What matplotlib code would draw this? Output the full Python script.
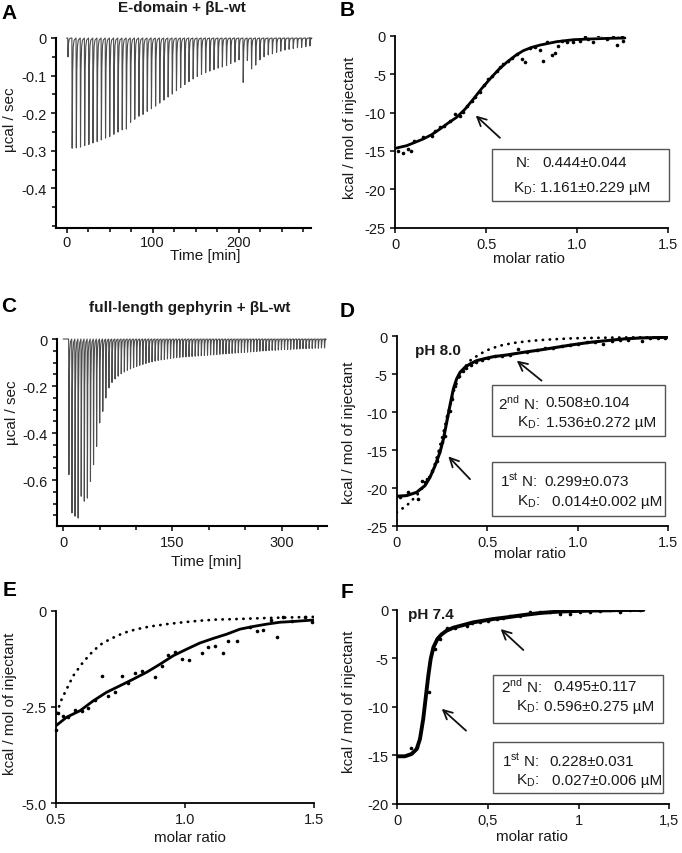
import numpy as np
import matplotlib
matplotlib.use('Agg')
import matplotlib.pyplot as plt
from matplotlib.patches import Rectangle

plt.rcParams['font.family'] = ['Liberation Sans', 'DejaVu Sans']
plt.rcParams['mathtext.fontset'] = 'custom'
plt.rcParams['mathtext.rm'] = 'Liberation Sans'
plt.rcParams['axes.unicode_minus'] = False

# ---------------- data ----------------
# Panel A thermogram: injection peak depths (µcal/sec), equally spaced injections
A_t0, A_dt = 1.2, 4.85
A_depth = [0.050, 0.293, 0.292, 0.290, 0.286, 0.283, 0.279, 0.275, 0.271, 0.266,
           0.262, 0.256, 0.250, 0.244, 0.242, 0.224, 0.216, 0.208, 0.203, 0.195,
           0.188, 0.181, 0.173, 0.165, 0.157, 0.149, 0.140, 0.132, 0.124, 0.116,
           0.109, 0.102, 0.097, 0.092, 0.088, 0.084, 0.080, 0.077, 0.073, 0.068,
           0.064, 0.058, 0.118, 0.060, 0.082, 0.072, 0.058, 0.050, 0.045, 0.042,
           0.038, 0.035, 0.032, 0.030, 0.028, 0.026, 0.025, 0.023, 0.021]

# Panel C thermogram
C_t0, C_dt = 7.4, 4.23
C_depth = [0.577, 0.740, 0.754, 0.762, 0.669, 0.690, 0.677, 0.606, 0.535, 0.457,
           0.357, 0.308, 0.251, 0.208, 0.185, 0.170, 0.158, 0.148, 0.140, 0.133,
           0.127, 0.122, 0.117, 0.112, 0.108, 0.104, 0.100, 0.097, 0.094, 0.091,
           0.089, 0.087, 0.085, 0.083, 0.081, 0.079, 0.078, 0.077, 0.076, 0.075,
           0.074, 0.073, 0.072, 0.071, 0.070, 0.069, 0.068, 0.067, 0.066, 0.065,
           0.064, 0.063, 0.062, 0.061, 0.060, 0.059, 0.058, 0.057, 0.056, 0.055,
           0.054, 0.053, 0.052, 0.051, 0.050, 0.049, 0.048, 0.048, 0.047, 0.046,
           0.045, 0.045, 0.044, 0.043, 0.043, 0.042, 0.041, 0.041, 0.040, 0.040,
           0.039, 0.039, 0.038, 0.038]

# Panel B
B_pts_x = [0.018, 0.046, 0.073, 0.088, 0.104, 0.155, 0.201, 0.22, 0.247, 0.269, 0.302,
           0.329, 0.357, 0.375, 0.393, 0.421, 0.439, 0.466, 0.49, 0.512, 0.53, 0.558,
           0.576, 0.594, 0.622, 0.64, 0.668, 0.695, 0.713, 0.741, 0.768, 0.796, 0.814,
           0.832, 0.86, 0.878, 0.896, 0.915, 0.942, 0.979, 1.015, 1.043, 1.061, 1.088,
           1.116, 1.129, 1.162, 1.198, 1.216, 1.225, 1.244, 1.253]
B_pts_y = [-14.97, -15.28, -14.76, -15.06, -13.67, -13.24, -13.0, -12.37, -11.94, -11.72,
           -11.07, -10.2, -10.42, -9.98, -9.11, -8.46, -8.03, -7.38, -6.42, -5.64, -5.3,
           -4.56, -4.12, -3.69, -3.26, -2.95, -2.39, -3.04, -3.39, -1.65, -1.52, -1.82,
           -3.26, -0.87, -2.52, -2.26, -1.3, -0.65, -0.87, -0.78, -0.65, -0.22, -0.43,
           -0.78, 0.09, 0.22, -0.43, 0.13, -1.17, 0.22, -0.22, -0.65]
B_fit_x = [0, 0.064, 0.155, 0.2, 0.247, 0.29, 0.338, 0.385, 0.43, 0.475, 0.521, 0.567,
           0.613, 0.66, 0.704, 0.75, 0.796, 0.887, 0.979, 1.07, 1.162, 1.262]
B_fit_y = [-14.67, -14.32, -13.45, -12.9, -12.15, -11.4, -10.63, -9.55, -8.25, -6.9,
           -5.64, -4.45, -3.47, -2.6, -1.95, -1.52, -1.22, -0.78, -0.52, -0.43, -0.35, -0.3]

# Panel D (pH 8.0)
D_pts_x = [0.018, 0.064, 0.12, 0.138, 0.156, 0.169, 0.193, 0.221, 0.234, 0.248, 0.267,
           0.28, 0.294, 0.307, 0.322, 0.344, 0.364, 0.383, 0.409, 0.438, 0.469, 0.506,
           0.543, 0.58, 0.626, 0.672, 0.718, 0.773, 0.819, 0.865, 0.911, 0.957, 1.003,
           1.049, 1.095, 1.141, 1.187, 1.233, 1.279, 1.353, 1.399, 1.445, 1.482]
D_pts_y = [-21.18, -20.53, -21.4, -18.99, -19.21, -18.77, -17.68, -16.36, -15.26, -13.95,
           -13.07, -10.44, -9.78, -8.25, -6.49, -5.18, -4.52, -4.21, -3.77, -3.33, -3.11,
           -2.89, -2.63, -2.54, -2.46, -1.67, -2.02, -1.75, -1.58, -1.49, -1.23, -1.14,
           -0.96, -0.79, -0.7, -1.01, -0.57, -0.48, -0.44, -0.57, -0.26, -0.18, -0.18]
D_fit_x = [0, 0.055, 0.11, 0.156, 0.184, 0.212, 0.239, 0.258, 0.276, 0.294, 0.313, 0.331,
           0.35, 0.377, 0.405, 0.442, 0.479, 0.534, 0.607, 0.699, 0.791, 0.883, 0.975,
           1.068, 1.16, 1.252, 1.344, 1.5]
D_fit_y = [-21.05, -20.96, -20.53, -19.65, -18.55, -17.02, -15.26, -13.51, -11.32, -9.12,
           -6.93, -5.61, -4.74, -4.08, -3.64, -3.2, -2.98, -2.68, -2.46, -2.11, -1.8,
           -1.45, -1.1, -0.79, -0.57, -0.35, -0.22, -0.13]
D_one_x = [0, 0.055, 0.11, 0.166, 0.202, 0.23, 0.258, 0.285, 0.313, 0.34, 0.368, 0.405,
           0.46, 0.515, 0.571, 0.644, 0.736, 0.828, 0.975, 1.16, 1.5]
D_one_y = [-23.16, -22.28, -20.96, -19.21, -17.46, -15.26, -12.63, -10.0, -7.37, -5.61,
           -4.3, -3.2, -2.32, -1.67, -1.23, -0.88, -0.61, -0.44, -0.26, -0.18, -0.09]

# Panel E (zoom of D)
E_pts_x = [0.5, 0.509, 0.526, 0.548, 0.574, 0.599, 0.625, 0.651, 0.677, 0.703, 0.728,
           0.754, 0.78, 0.806, 0.832, 0.883, 0.909, 0.935, 0.961, 0.986, 1.016, 1.064,
           1.09, 1.115, 1.145, 1.167, 1.199, 1.251, 1.277, 1.303, 1.331, 1.357, 1.38,
           1.412, 1.464, 1.49]
E_pts_y = [-3.1, -2.66, -2.73, -2.77, -2.57, -2.6, -2.54, -2.32, -1.71, -2.21, -2.11,
           -1.69, -1.89, -1.62, -1.56, -1.73, -1.43, -1.15, -1.07, -1.26, -1.28, -1.1,
           -0.95, -0.91, -1.1, -0.78, -0.78, -0.43, -0.54, -0.5, -0.24, -0.69, -0.17,
           -0.26, -0.17, -0.3]
E_fit_x = [0.5, 0.541, 0.593, 0.645, 0.696, 0.748, 0.799, 0.851, 0.903, 0.954, 1.006,
           1.057, 1.109, 1.161, 1.212, 1.264, 1.315, 1.367, 1.419, 1.5]
E_fit_y = [-2.99, -2.77, -2.6, -2.34, -2.12, -1.95, -1.78, -1.6, -1.39, -1.17, -1.0,
           -0.84, -0.72, -0.61, -0.48, -0.41, -0.35, -0.3, -0.28, -0.24]
E_one_x = [0.503, 0.522, 0.541, 0.567, 0.599, 0.632, 0.67, 0.709, 0.761, 0.812, 0.864,
           0.928, 0.993, 1.057, 1.122, 1.186, 1.315, 1.5]
E_one_y = [-2.66, -2.3, -2.04, -1.69, -1.39, -1.13, -0.89, -0.74, -0.58, -0.48, -0.41,
           -0.35, -0.3, -0.26, -0.23, -0.22, -0.19, -0.16]

# Panel F (pH 7.4)
F_pts_x = [0.074, 0.11, 0.176, 0.208, 0.235, 0.272, 0.318, 0.382, 0.41, 0.456, 0.502,
           0.548, 0.585, 0.621, 0.676, 0.732, 0.787, 0.842, 0.897, 0.952, 1.007, 1.063,
           1.118, 1.173, 1.228, 1.283, 1.338]
F_pts_y = [-14.24, -14.17, -8.51, -4.05, -3.02, -1.92, -1.92, -1.65, -1.41, -1.3, -1.13,
           -0.96, -0.89, -0.62, -0.62, -0.27, -0.27, -0.27, -0.45, -0.45, -0.21, -0.21,
           -0.1, -0.07, -0.21, -0.07, 0.0]
F_fit_x = [0, 0.042, 0.079, 0.107, 0.125, 0.143, 0.158, 0.171, 0.184, 0.199, 0.221, 0.244,
           0.272, 0.309, 0.364, 0.419, 0.474, 0.529, 0.603, 0.695, 0.787, 0.879, 0.971,
           1.063, 1.154, 1.246, 1.357]
F_fit_y = [-15.09, -15.09, -14.85, -14.34, -13.31, -11.25, -8.85, -6.79, -5.08, -3.88,
           -3.02, -2.54, -2.16, -1.85, -1.58, -1.3, -1.13, -0.96, -0.79, -0.55, -0.34,
           -0.21, -0.14, -0.1, -0.07, -0.03, -0.03]

# ---------------- figure ----------------
W, H = 682, 854
fig = plt.figure(figsize=(W / 100, H / 100), dpi=100)
TXT = '#1a1a1a'
FS_TICK = 10.5
FS_LAB = 11


def fx(x):
    return x / W


def fy(y):
    return 1 - y / H


def axes_px(l, t, r, b):
    return fig.add_axes([l / W, 1 - b / H, (r - l) / W, (b - t) / H])


def style(ax, lw=1.3):
    for s in ('top', 'right'):
        ax.spines[s].set_visible(False)
    for s in ('left', 'bottom'):
        ax.spines[s].set_linewidth(lw)
        ax.spines[s].set_color('black')
    ax.tick_params(which='both', direction='out', colors='black', labelcolor=TXT,
                   labelsize=FS_TICK, width=1.1, pad=3)
    ax.tick_params(which='major', length=3.5)
    ax.tick_params(which='minor', length=3.0)
    ax.set_facecolor('none')


def thermogram(t0, dt, depths, t_end):
    xs, ys = [0.0], [0.0]
    for i, d in enumerate(depths):
        t = t0 + dt * i
        xs += [t, t + 0.35, t + 0.9, t + 1.6, t + 2.6]
        ys += [0.0, -d, -0.3 * d, -0.08 * d, -0.02 * d]
    xs.append(t_end)
    ys.append(0.0)
    return xs, ys


def ylab(text, x, y):
    fig.text(fx(x), fy(y), text, rotation=90, ha='center', va='center',
             fontsize=FS_LAB, color=TXT)


def xlab(text, x, y):
    fig.text(fx(x), fy(y), text, ha='center', va='center', fontsize=FS_LAB, color=TXT)


def letter(text, x, y):
    fig.text(fx(x), fy(y), text, ha='center', va='center', fontsize=15,
             fontweight='bold', color='black')


def box(l, t, r, b):
    fig.add_artist(Rectangle((fx(l), fy(b)), (r - l) / W, (b - t) / H,
                             transform=fig.transFigure, facecolor='white',
                             edgecolor='#555555', lw=1.0, zorder=5))


def btxt(text, x, y, ha='left'):
    fig.text(fx(x), fy(y), text, ha=ha, va='center', fontsize=FS_LAB,
             color=TXT, zorder=6)


def arrow(ax, tip, tail):
    ax.annotate('', xy=tip, xytext=tail, xycoords='data',
                arrowprops=dict(arrowstyle='->', lw=1.3, color='#111111',
                                mutation_scale=16, shrinkA=0, shrinkB=0),
                annotation_clip=False)


KD = r'K$_\mathregular{D}$:'

# ---------- A ----------
axA = axes_px(56, 39, 310.7, 229)
style(axA, 1.5)
xs, ys = thermogram(A_t0, A_dt, A_depth, 283)
axA.plot(xs, ys, color='#4d4d4d', lw=0.8, clip_on=False)
axA.set_xlim(-12.4, 283.7)
axA.set_ylim(-0.505, 0)
axA.set_xticks([0, 100, 200])
axA.set_xticklabels(['0', '100', '200'])
axA.set_xticks([25, 50, 75, 125, 150, 175, 225, 250, 275], minor=True)
axA.tick_params(axis='x', pad=1.2)
axA.set_yticks([0, -0.1, -0.2, -0.3, -0.4])
axA.set_yticklabels(['0', '-0.1', '-0.2', '-0.3', '-0.4'])
axA.set_yticks([-0.05, -0.15, -0.25, -0.35, -0.45, -0.5], minor=True)
ylab('µcal / sec', 10, 120)
xlab('Time [min]', 205, 256.5)
fig.text(fx(182), fy(8), 'E-domain + βL-wt', ha='center', va='center',
         fontsize=11, fontweight='bold', color=TXT)
letter('A', 9.5, 13.5)

# ---------- B ----------
axB = axes_px(395, 36.7, 668.3, 228.7)
style(axB)
axB.plot(B_fit_x, B_fit_y, color='black', lw=2.0, solid_capstyle='round',
         solid_joinstyle='round')
axB.plot(B_pts_x, B_pts_y, 'o', color='black', ms=2.6, mew=0)
axB.set_xlim(0, 1.5)
axB.set_ylim(-25, 0)
axB.set_xticks([0, 0.5, 1.0, 1.5])
axB.set_xticklabels(['0', '0.5', '1.0', '1.5'])
axB.set_yticks([0, -5, -10, -15, -20, -25])
axB.set_yticklabels(['0', '-5', '-10', '-15', '-20', '-25'])
arrow(axB, (0.443, -10.4), (0.576, -13.3))
ylab('kcal / mol of injectant', 350, 128)
xlab('molar ratio', 529, 259)
box(491.7, 150, 669, 201.7)
btxt('N:', 531, 163.3, 'right')
btxt('0.444±0.044', 542.7, 163.3)
btxt(KD, 536, 188.3, 'right')
btxt('1.161±0.229 µM', 540, 188.3)
letter('B', 347.5, 10)

# ---------- C ----------
axC = axes_px(56.7, 340, 326.7, 527.3)
style(axC, 1.5)
xs, ys = thermogram(C_t0, C_dt, C_depth, 360)
axC.plot(xs, ys, color='#4d4d4d', lw=0.8, clip_on=False)
axC.set_xlim(-9, 361.8)
axC.set_ylim(-0.797, 0)
axC.set_xticks([0, 150, 300])
axC.set_xticklabels(['0', '150', '300'])
axC.set_xticks([50, 100, 200, 250, 350], minor=True)
axC.set_yticks([0, -0.2, -0.4, -0.6])
axC.set_yticklabels(['0', '-0.2', '-0.4', '-0.6'])
axC.set_yticks([-0.05, -0.1, -0.15, -0.25, -0.3, -0.35, -0.45, -0.5, -0.55,
                -0.65, -0.7, -0.75], minor=True)
ylab('µcal / sec', 12, 413)
xlab('Time [min]', 206.7, 561.7)
fig.text(fx(190), fy(307.7), 'full-length gephyrin + βL-wt', ha='center',
         va='center', fontsize=11, fontweight='bold', color=TXT)
letter('C', 9, 306.7)

# ---------- D ----------
axD = axes_px(396.7, 337.3, 668.3, 527.3)
style(axD)
axD.plot(D_one_x, D_one_y, color='black', lw=2.0, linestyle=(0, (0.1, 2.4)),
         dash_capstyle='round')
axD.plot(D_fit_x, D_fit_y, color='black', lw=2.2, solid_capstyle='round',
         solid_joinstyle='round')
axD.plot(D_pts_x, D_pts_y, 'o', color='black', ms=2.6, mew=0)
axD.set_xlim(0, 1.5)
axD.set_ylim(-25, 0)
axD.set_xticks([0, 0.5, 1.0, 1.5])
axD.set_xticklabels(['0', '0.5', '1.0', '1.5'])
axD.set_yticks([0, -5, -10, -15, -20, -25])
axD.set_yticklabels(['0', '-5', '-10', '-15', '-20', '-25'])
arrow(axD, (0.663, -3.2), (0.8, -5.84))
arrow(axD, (0.285, -15.8), (0.405, -18.8))
fig.text(fx(415), fy(350.5), 'pH 8.0', ha='left', va='center', fontsize=11,
         fontweight='bold', color=TXT)
ylab('kcal / mol of injectant', 349, 433)
xlab('molar ratio', 530, 554)
box(491.7, 386, 665, 436.7)
btxt(r'2$^\mathregular{nd}$ N:', 538.5, 403.3, 'right')
btxt('0.508±0.104', 545, 403.3)
btxt(KD, 540, 422.7, 'right')
btxt('1.536±0.272 µM', 546, 422.7)
box(491.7, 462.7, 665, 516.7)
btxt(r'1$^\mathregular{st}$ N:', 537, 481.7, 'right')
btxt('0.299±0.073', 544, 481.7)
btxt(KD, 540, 501.7, 'right')
btxt('0.014±0.002 µM', 551.7, 501.7)
letter('D', 347.5, 311.7)

# ---------- E ----------
axE = axes_px(56, 611.7, 314.3, 804)
style(axE)
axE.plot(E_one_x, E_one_y, color='black', lw=2.0, linestyle=(0, (0.1, 2.4)),
         dash_capstyle='round')
axE.plot(E_fit_x, E_fit_y, color='black', lw=2.0, solid_capstyle='round',
         solid_joinstyle='round')
axE.plot(E_pts_x, E_pts_y, 'o', color='black', ms=2.6, mew=0, clip_on=False)
axE.set_xlim(0.5, 1.5)
axE.set_ylim(-5, 0)
axE.set_xticks([0.5, 1.0, 1.5])
axE.set_xticklabels(['0.5', '1.0', '1.5'])
axE.set_yticks([0, -2.5, -5.0])
axE.set_yticklabels(['0', '-2.5', '-5.0'])
ylab('kcal / mol of injectant', 10, 704)
xlab('molar ratio', 190, 838)
letter('E', 10, 591)

# ---------- F ----------
axF = axes_px(397.3, 610.7, 669.3, 805)
style(axF)
axF.plot(F_fit_x, F_fit_y, color='black', lw=2.8, solid_capstyle='round',
         solid_joinstyle='round')
axF.plot(F_pts_x, F_pts_y, 'o', color='black', ms=2.6, mew=0)
axF.set_xlim(0, 1.5)
axF.set_ylim(-20, 0)
axF.set_xticks([0, 0.5, 1.0, 1.5])
axF.set_xticklabels(['0', '0,5', '1', '1,5'])
axF.set_yticks([0, -5, -10, -15, -20])
axF.set_yticklabels(['0', '-5', '-10', '-15', '-20'])
arrow(axF, (0.57, -1.99), (0.695, -4.15))
arrow(axF, (0.245, -10.2), (0.379, -12.45))
fig.text(fx(408), fy(615), 'pH 7.4', ha='left', va='center', fontsize=11,
         fontweight='bold', color=TXT)
ylab('kcal / mol of injectant', 349, 701.5)
xlab('molar ratio', 531.7, 836.7)
box(492.7, 676, 663.3, 724)
btxt(r'2$^\mathregular{nd}$ N:', 542, 686.7, 'right')
btxt('0.495±0.117', 553.3, 686.7)
btxt(KD, 539.3, 706.7, 'right')
btxt('0.596±0.275 µM', 544, 706.7)
box(492.7, 742.7, 663.3, 794)
btxt(r'1$^\mathregular{st}$ N:', 539.3, 761.7, 'right')
btxt('0.228±0.031', 549.3, 761.7)
btxt(KD, 539.3, 780.7, 'right')
btxt('0.027±0.006 µM', 551.7, 780.7)
letter('F', 346.7, 592.5)

fig.savefig('out.png', dpi=100, facecolor='white')
